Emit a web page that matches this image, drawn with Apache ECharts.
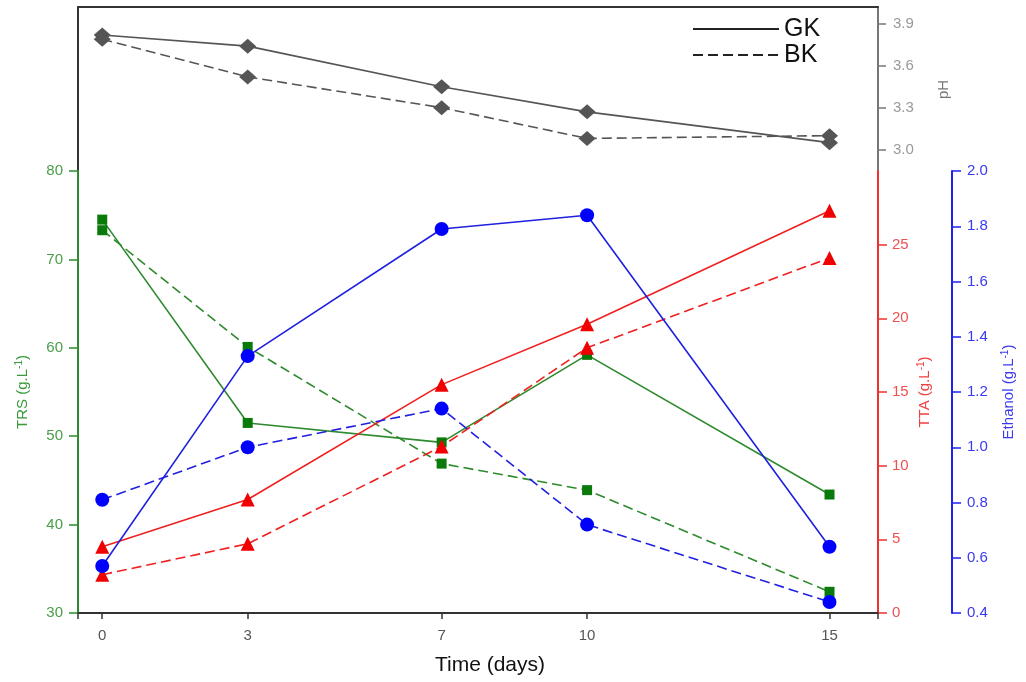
<!DOCTYPE html>
<html>
<head>
<meta charset="utf-8">
<script src="https://cdn.jsdelivr.net/npm/echarts@6/dist/echarts.min.js"></script>
<style>
  html, body { margin: 0; padding: 0; background: #fff; }
  #main { width: 1026px; height: 682px; }
</style>
</head>
<body>
<div id="main"></div>
<script>
// 数据
var days = [0, 3, 7, 10, 15];
var xTicks = [-0.5, 0, 3, 7, 10, 15, 16];
var xLabels = [0, 3, 7, 10, 15];

var phGK = [3.82, 3.74, 3.45, 3.27, 3.05];
var phBK = [3.79, 3.52, 3.30, 3.08, 3.10];
var trsGK = [74.5, 51.5, 49.3, 59.2, 43.4];
var trsBK = [73.3, 60.1, 46.9, 43.9, 32.4];
var ttaGK = [4.5, 7.7, 15.5, 19.6, 27.3];
var ttaBK = [2.6, 4.7, 11.3, 18.0, 24.1];
var ethGK = [0.57, 1.33, 1.79, 1.84, 0.64];
var ethBK = [0.81, 1.00, 1.14, 0.72, 0.44];

var phTicks = [3.0, 3.3, 3.6, 3.9];
var ttaTicks = [0, 5, 10, 15, 20, 25];

var FONT = 'Liberation Sans, Arial, sans-serif';

function pairs(vals) {
  return days.map(function (d, i) { return [d, vals[i]]; });
}

function mkLine(name, vals, xi, yi, color, markColor, symbol, size, dashed) {
  return {
    name: name,
    type: 'line',
    xAxisIndex: xi,
    yAxisIndex: yi,
    data: pairs(vals),
    symbol: symbol,
    symbolSize: size,
    showAllSymbol: true,
    itemStyle: { color: markColor },
    lineStyle: { color: color, width: 1.6, type: dashed ? [10, 5] : 'solid' },
    z: 3
  };
}

function yName(text) {
  return '{a|' + text + '}{s|-1}{a|)}';
}

function richFor(color) {
  return {
    a: { fontSize: 15, color: color, fontFamily: FONT, lineHeight: 18 },
    s: { fontSize: 10, color: color, fontFamily: FONT, lineHeight: 11, verticalAlign: 'top' }
  };
}

var chart = echarts.init(document.getElementById('main'));

var option = {
  animation: false,
  backgroundColor: '#fff',
  legend: {
    data: ['GK', 'BK'],
    orient: 'vertical',
    left: 692,
    top: 16,
    padding: 0,
    itemWidth: 86,
    itemHeight: 14,
    itemGap: 0,
    itemStyle: { opacity: 0 },
    textStyle: { fontSize: 25, color: '#111', fontFamily: FONT, lineHeight: 26 }
  },
  grid: [
    { left: 78, right: 148, top: 7, height: 165 },
    { left: 78, right: 148, top: 171, bottom: 69 }
  ],
  xAxis: [
    {
      gridIndex: 0, type: 'value', min: -0.5, max: 16, position: 'top',
      axisLine: { show: true, onZero: false, lineStyle: { color: '#333', width: 2 } },
      axisTick: { show: false }, axisLabel: { show: false }, splitLine: { show: false }
    },
    {
      gridIndex: 1, type: 'value', min: -0.5, max: 16, position: 'bottom',
      name: 'Time (days)', nameLocation: 'middle', nameGap: 42,
      nameTextStyle: { fontSize: 21, color: '#111', fontFamily: FONT, padding: [0, 0, 0, 24] },
      axisLine: { show: true, onZero: false, lineStyle: { color: '#333', width: 2 } },
      axisTick: { show: true, length: 6, customValues: xTicks, lineStyle: { color: '#333', width: 1.5 } },
      axisLabel: { customValues: xLabels, margin: 15, fontSize: 15, color: '#555', fontFamily: FONT },
      splitLine: { show: false }
    }
  ],
  yAxis: [
    {
      gridIndex: 0, type: 'value', position: 'left', min: 0, max: 1,
      axisLine: { show: true, onZero: false, lineStyle: { color: '#333', width: 2 } },
      axisTick: { show: false }, axisLabel: { show: false }, splitLine: { show: false }
    },
    {
      gridIndex: 0, type: 'value', position: 'right', min: 2.84, max: 4.02,
      name: 'pH', nameLocation: 'middle', nameGap: 58, nameRotate: 90, nameMoveOverlap: false,
      nameTextStyle: { fontSize: 15, color: '#777', fontFamily: FONT },
      axisLine: { show: true, onZero: false, lineStyle: { color: '#777', width: 2 } },
      axisTick: { show: true, length: 8, customValues: phTicks, lineStyle: { color: '#777', width: 1.5 } },
      axisLabel: {
        customValues: phTicks, margin: 15, fontSize: 15, color: '#999', fontFamily: FONT,
        formatter: function (v) { return v.toFixed(1); }
      },
      splitLine: { show: false }
    },
    {
      gridIndex: 1, type: 'value', position: 'left', min: 30, max: 80, interval: 10,
      name: yName('TRS (g.L'), nameLocation: 'middle', nameGap: 46, nameRotate: 90, nameMoveOverlap: false,
      nameTextStyle: { rich: richFor('#3a9a3a') },
      axisLine: { show: true, onZero: false, lineStyle: { color: '#2d8a2d', width: 2 } },
      axisTick: { show: true, length: 9, lineStyle: { color: '#2d8a2d', width: 1.5 } },
      axisLabel: { margin: 15, fontSize: 15, color: '#4a9e4a', fontFamily: FONT },
      splitLine: { show: false }
    },
    {
      gridIndex: 1, type: 'value', position: 'right', min: 0, max: 30, interval: 5,
      name: yName('TTA (g.L'), nameLocation: 'middle', nameGap: 38, nameRotate: 90, nameMoveOverlap: false,
      nameTextStyle: { rich: richFor('#f04040') },
      axisLine: { show: true, onZero: false, lineStyle: { color: '#f03030', width: 2 } },
      axisTick: { show: true, length: 9, customValues: ttaTicks, lineStyle: { color: '#f03030', width: 1.5 } },
      axisLabel: { customValues: ttaTicks, margin: 14, fontSize: 15, color: '#f05050', fontFamily: FONT },
      splitLine: { show: false }
    },
    {
      gridIndex: 1, type: 'value', position: 'right', offset: 74, min: 0.4, max: 2.0, interval: 0.2,
      name: yName('Ethanol (g.L'), nameLocation: 'middle', nameGap: 48, nameRotate: 90, nameMoveOverlap: false,
      nameTextStyle: { rich: richFor('#3a3af0') },
      axisLine: { show: true, onZero: false, lineStyle: { color: '#2020f0', width: 2 } },
      axisTick: { show: true, length: 9, lineStyle: { color: '#2020f0', width: 1.5 } },
      axisLabel: {
        margin: 15, fontSize: 15, color: '#3a3af0', fontFamily: FONT,
        formatter: function (v) { return v.toFixed(1); }
      },
      splitLine: { show: false }
    }
  ],
  series: [
    mkLine('pH GK', phGK, 0, 1, '#555', '#555', 'diamond', [17, 15], false),
    mkLine('pH BK', phBK, 0, 1, '#555', '#555', 'diamond', [17, 15], true),
    mkLine('TRS GK', trsGK, 1, 2, '#2d8a2d', '#0a7a0a', 'rect', 10, false),
    mkLine('TRS BK', trsBK, 1, 2, '#2d8a2d', '#0a7a0a', 'rect', 10, true),
    mkLine('TTA GK', ttaGK, 1, 3, '#f02020', '#f00000', 'triangle', 14, false),
    mkLine('TTA BK', ttaBK, 1, 3, '#f02020', '#f00000', 'triangle', 14, true),
    mkLine('Ethanol GK', ethGK, 1, 4, '#2020e0', '#0000ff', 'circle', 14, false),
    mkLine('Ethanol BK', ethBK, 1, 4, '#2020e0', '#0000ff', 'circle', 14, true),
    {
      name: 'GK', type: 'line', xAxisIndex: 1, yAxisIndex: 2, data: [], symbol: 'none',
      itemStyle: { color: '#222' }, lineStyle: { color: '#222', width: 1.6, type: 'solid' }
    },
    {
      name: 'BK', type: 'line', xAxisIndex: 1, yAxisIndex: 2, data: [], symbol: 'none',
      itemStyle: { color: '#222' }, lineStyle: { color: '#222', width: 1.6, type: [10, 5] }
    }
  ]
};

chart.setOption(option);
</script>
</body>
</html>
